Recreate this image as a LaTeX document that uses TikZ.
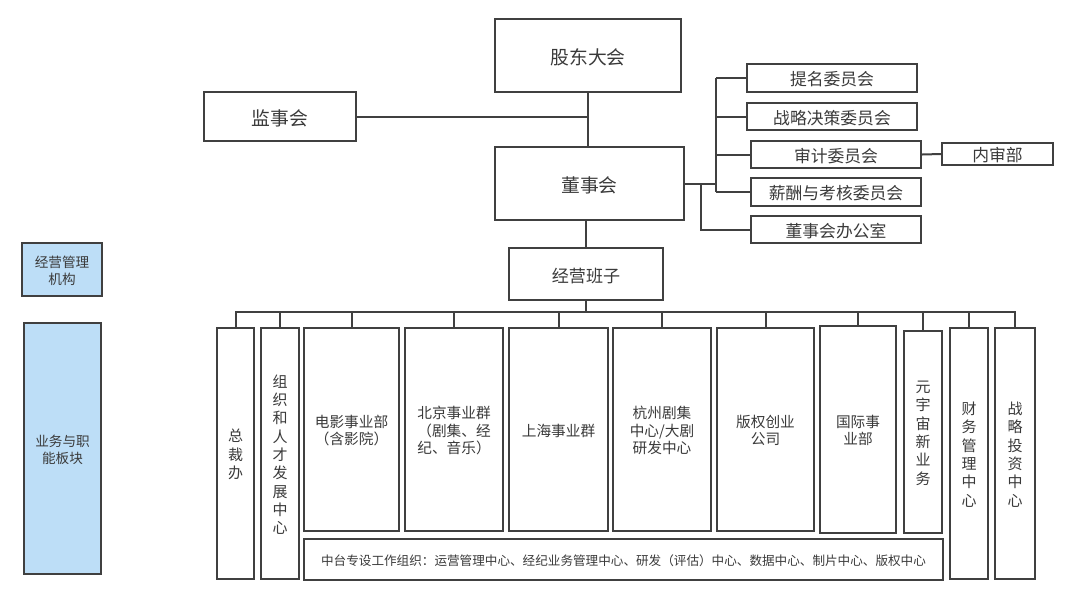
\documentclass[tikz,border=0pt]{standalone}
\usepackage{fontspec}
\setmainfont{Noto Sans CJK SC}
\usetikzlibrary{fit}
\definecolor{ln}{HTML}{404040}
\definecolor{tx}{HTML}{3A3A3A}
\definecolor{lb}{HTML}{BDDEF7}
\begin{document}
\begin{tikzpicture}[x=0.75pt,y=-0.75pt,
  box/.style={draw=ln, line width=1.5pt, inner sep=0pt},
  lbl/.style={text=tx, align=center, inner sep=0pt},
  conn/.style={draw=ln, line width=1.5pt},
  fbig/.style={lbl,font=\fontsize{14.1pt}{17pt}\selectfont, yshift=-1.6pt},
  fmid/.style={lbl,font=\fontsize{12.8pt}{15pt}\selectfont, yshift=-1.3pt},
  fcom/.style={lbl,font=\fontsize{12.6pt}{15pt}\selectfont, yshift=-1.1pt},
  fsm/.style={lbl,font=\fontsize{10.2pt}{12.75pt}\selectfont, yshift=-0.8pt},
  fbt/.style={lbl,font=\fontsize{11pt}{13.1pt}\selectfont, yshift=-0.8pt},
  fvt/.style={lbl,font=\fontsize{11.25pt}{13.75pt}\selectfont, yshift=-0.8pt},
  fzt/.style={lbl,font=\fontsize{9.45pt}{12pt}\selectfont, yshift=-0.7pt},
  bluefill/.style={fill=lb}
]
\useasboundingbox[fill=white] (0,0) rectangle (1080,601);

% top
\node[box,fit={(495,19)(681,92)},label={[fbig]center:股东大会}] (gd) {};
\node[box,fit={(204,92)(356,141)},label={[fbig]center:监事会}] (jsh) {};
\node[box,fit={(495,147)(684,220)},label={[fbig]center:董事会}] (dsh) {};
\node[box,fit={(509,248)(663,300)},label={[fmid]center:经营班子}] (jy) {};

% committees
\node[box,fit={(747,64)(917,92)},label={[fcom]center:提名委员会}] (tm) {};
\node[box,fit={(747,103)(917,130)},label={[fcom]center:战略决策委员会}] (zl) {};
\node[box,fit={(751,141)(921,168)},label={[fcom]center:审计委员会}] (sj) {};
\node[box,fit={(942,143)(1053,165)},label={[fcom]center:内审部}] (ns) {};
\node[box,fit={(751,178)(921,206)},label={[fcom]center:薪酬与考核委员会}] (xc) {};
\node[box,fit={(751,216)(921,243)},label={[fcom]center:董事会办公室}] (bgs) {};

% left legend
\node[box,bluefill,fit={(22,243)(102,296)},label={[fsm]center:经营管理\\机构}] (jg) {};
\node[box,bluefill,fit={(24,323)(101,574)},label={[fsm]center:业务与职\\能板块}] (yw) {};

% bottom
\node[box,fit={(217,328)(254,579)},label={[fvt]center:总\\裁\\办}] (zcb) {};
\node[box,fit={(261,328)(299,579)},label={[fvt]center:组\\织\\和\\人\\才\\发\\展\\中\\心}] (zz) {};
\node[box,fit={(304,328)(399,531)},label={[fbt]center:电影事业部\\（含影院）}] (dy) {};
\node[box,fit={(405,328)(503,531)},label={[fbt]center:北京事业群\\（剧集、经\\纪、音乐）}] (bj) {};
\node[box,fit={(509,328)(608,531)},label={[fbt]center:上海事业群}] (sh) {};
\node[box,fit={(613,328)(711,531)},label={[fbt]center:杭州剧集\\中心/大剧\\研发中心}] (hz) {};
\node[box,fit={(717,328)(814,531)},label={[fbt]center:版权创业\\公司}] (bq) {};
\node[box,fit={(820,326)(896,533)},label={[fbt]center:国际事\\业部}] (gj) {};
\node[box,fit={(904,331)(942,533)},label={[fvt]center:元\\宇\\宙\\新\\业\\务}] (yyz) {};
\node[box,fit={(950,328)(988,579)},label={[fvt]center:财\\务\\管\\理\\中\\心}] (cw) {};
\node[box,fit={(995,328)(1035,579)},label={[fvt]center:战\\略\\投\\资\\中\\心}] (zltz) {};
\node[box,fit={(304,539)(943,580)},label={[fzt]center:中台专设工作组织：运营管理中心、经纪业务管理中心、研发（评估）中心、数据中心、制片中心、版权中心}] (zt) {};

% connectors top
\draw[conn] (gd.south) -- (gd.south |- dsh.north);
\draw[conn] (jsh.east) -- (jsh.east -| gd.south);
\draw[conn] (jy.north |- dsh.south) -- (jy.north);

\coordinate (T) at (716,0);
\coordinate (B) at (701,0);
\draw[conn] (dsh.east) -- (dsh.east -| T);
\draw[conn] (tm.west -| T) -- (xc.west -| T);
\foreach \n in {tm,zl,sj,xc} \draw[conn] (\n.west -| T) -- (\n.west);
\draw[conn] (dsh.east -| B) |- (bgs.west);
\draw[conn] (sj.east) -- (ns.west);

% bus
\coordinate (bus) at (0,312);
\draw[conn] (jy.south) -- (jy.south |- bus);
\draw[conn] (zcb.north) -- (zcb.north |- bus) -- (zltz.north |- bus) -- (zltz.north);
\foreach \n in {zz,dy,bj,sh,hz,bq,gj,yyz,cw} \draw[conn] (\n.north |- bus) -- (\n.north);
\end{tikzpicture}
\end{document}
